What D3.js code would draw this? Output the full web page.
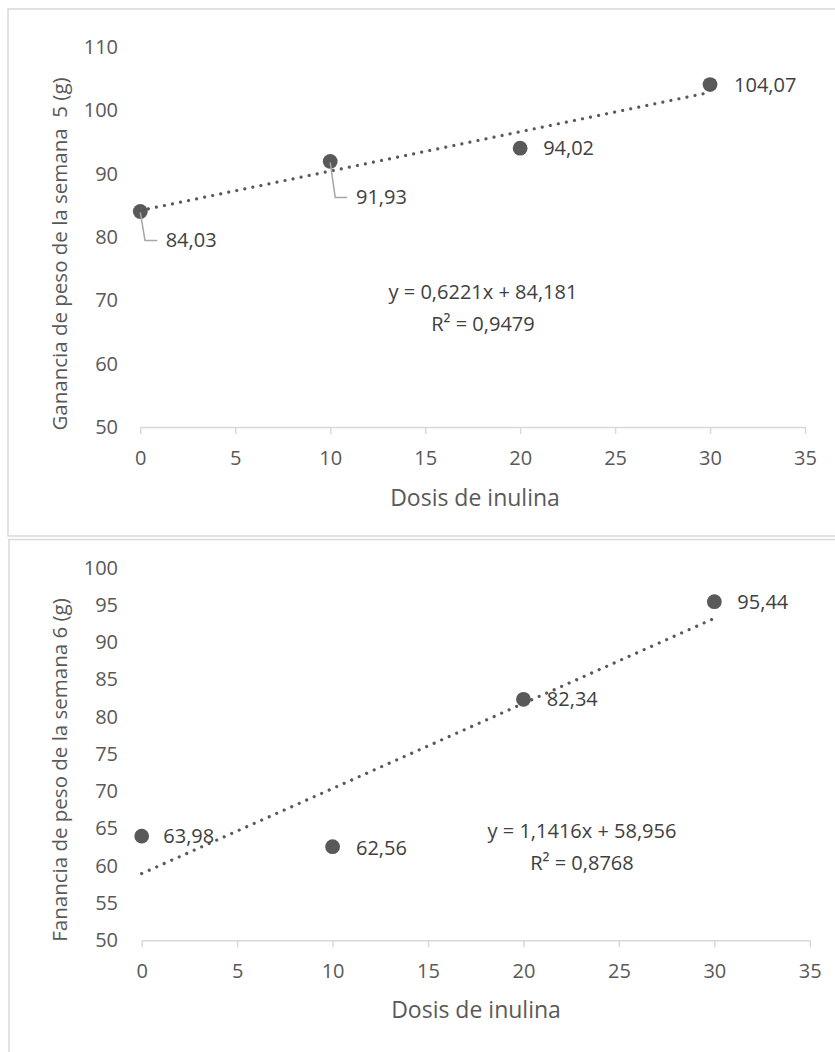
<!DOCTYPE html>
<html>
<head>
<meta charset="utf-8">
<script src="https://cdn.jsdelivr.net/npm/d3@7"></script>
<style>
  html, body { margin: 0; padding: 0; background: #fff; }
  svg { display: block; }
  text { font-family: "Open Sans", "Noto Sans", sans-serif; }
</style>
</head>
<body>
<svg id="chart" width="835" height="1052"></svg>
<script>
// ---------- data ----------
const doses = [0, 10, 20, 30];
const week5 = [84.03, 91.93, 94.02, 104.07];
const week6 = [63.98, 62.56, 82.34, 95.44];
const xTicks = [0, 5, 10, 15, 20, 25, 30, 35];
const yTicks5 = [50, 60, 70, 80, 90, 100, 110];
const yTicks6 = [50, 55, 60, 65, 70, 75, 80, 85, 90, 95, 100];
const trend5 = [0.6221, 84.181];
const trend6 = [1.1416, 58.956];
const eq5 = ["y = 0,6221x + 84,181", "R² = 0,9479"];
const eq6 = ["y = 1,1416x + 58,956", "R² = 0,8768"];
const yTitle5 = "Ganancia de peso de la semana  5 (g)";
const yTitle6 = "Fanancia de peso de la semana 6 (g)";
const xTitle = "Dosis de inulina";

const fmt = v => d3.format(".2f")(v).replace(".", ",");
const svg = d3.select("#chart");

function drawChart(cfg) {
  const g = svg.append("g");
  // frame
  g.append("rect")
    .attr("x", cfg.frame[0]).attr("y", cfg.frame[1])
    .attr("width", cfg.frame[2]).attr("height", cfg.frame[3])
    .attr("fill", "none").attr("stroke", "#d9d9d9").attr("stroke-width", 1.5);

  const x = d3.scaleLinear().domain([0, 35]).range(cfg.xRange);
  const y = d3.scaleLinear().domain(cfg.yDomain).range(cfg.yRange);

  // x axis
  const xa = g.append("g").attr("transform", `translate(0,${cfg.yRange[0]})`)
    .call(d3.axisBottom(x).tickValues(xTicks).tickSize(7).tickSizeOuter(0).tickPadding(10));
  xa.select(".domain").attr("stroke", "#d9d9d9").attr("stroke-width", 1.5);
  xa.selectAll(".tick line").attr("stroke", "#d9d9d9").attr("stroke-width", 1.5);
  xa.selectAll(".tick text").attr("fill", "#595959").attr("font-size", 20)
    .attr("font-family", "Open Sans").attr("dy", "0.35em").attr("y", cfg.xLabelOff);

  // y axis (labels only)
  const ya = g.append("g").attr("transform", `translate(${cfg.xRange[0]},0)`)
    .call(d3.axisLeft(y).tickValues(cfg.yTicks).tickSize(0).tickPadding(cfg.xRange[0] - 118));
  ya.select(".domain").remove();
  ya.selectAll(".tick text").attr("fill", "#595959").attr("font-size", 20)
    .attr("font-family", "Open Sans");

  // trendline
  const tl = d3.line().x(d => x(d)).y(d => y(cfg.trend[0] * d + cfg.trend[1]));
  g.append("path").datum([0, 30]).attr("d", tl)
    .attr("fill", "none").attr("stroke", "#595959").attr("stroke-width", 3.2)
    .attr("stroke-linecap", "round").attr("stroke-dasharray", "0.01 8.2");

  // points
  g.selectAll("circle.pt").data(doses).join("circle").attr("class", "pt")
    .attr("cx", d => x(d)).attr("cy", (d, i) => y(cfg.values[i])).attr("r", 7.4)
    .attr("fill", "#595959");

  // leader lines + labels
  cfg.values.forEach((v, i) => {
    const px = x(doses[i]), py = y(v);
    const off = cfg.labelOff[i];
    if (off.leader) {
      g.append("path")
        .attr("d", `M${px},${py + 1}L${px + off.leader[0]},${py + off.dy}L${px + off.leader[1]},${py + off.dy}`)
        .attr("fill", "none").attr("stroke", "#a6a6a6").attr("stroke-width", 1.5);
    }
    g.append("text").attr("x", px + off.dx).attr("y", py + off.dy).attr("dy", "0.35em")
      .attr("font-size", 20).attr("fill", "#404040").text(fmt(v));
  });

  // equation
  cfg.eq.forEach((t, i) => {
    g.append("text").attr("x", cfg.eqPos[0]).attr("y", cfg.eqPos[1] + i * 32).attr("dy", "0.35em")
      .attr("text-anchor", "middle").attr("font-size", 20).attr("fill", "#404040").text(t);
  });

  // axis titles
  g.append("text").attr("transform", `translate(${cfg.yTitlePos[0]},${cfg.yTitlePos[1]}) rotate(-90)`)
    .attr("text-anchor", "middle").attr("dy", "0.35em").attr("font-size", 20.5).attr("fill", "#595959")
    .attr("xml:space", "preserve").style("white-space", "pre").text(cfg.yTitle);
  g.append("text").attr("x", cfg.xTitlePos[0]).attr("y", cfg.xTitlePos[1]).attr("dy", "0.35em")
    .attr("text-anchor", "middle").attr("font-size", 23).attr("fill", "#595959").text(xTitle);
}

drawChart({
  frame: [8, 9, 900, 527],
  xRange: [140.3, 805],
  yDomain: [50, 110], yRange: [427, 47],
  yTicks: yTicks5,
  values: week5, trend: trend5, eq: eq5,
  xLabelOff: 31,
  labelOff: [
    {dx: 25.4, dy: 29, leader: [4.7, 17]},
    {dx: 25.8, dy: 36, leader: [5, 17]},
    {dx: 23, dy: 0},
    {dx: 24, dy: 0}
  ],
  eqPos: [483, 292],
  yTitle: yTitle5, yTitlePos: [60, 254],
  xTitlePos: [475, 497.7]
});

drawChart({
  frame: [9, 539.5, 900, 600],
  xRange: [141.7, 809.8],
  yDomain: [50, 100], yRange: [940.3, 567.7],
  yTicks: yTicks6,
  values: week6, trend: trend6, eq: eq6,
  xLabelOff: 30.4,
  labelOff: [
    {dx: 21.6, dy: 0},
    {dx: 23.4, dy: 1},
    {dx: 23.4, dy: 0},
    {dx: 23, dy: 0.5}
  ],
  eqPos: [582, 831],
  yTitle: yTitle6, yTitlePos: [60, 770],
  xTitlePos: [476, 1010]
});
</script>
</body>
</html>
